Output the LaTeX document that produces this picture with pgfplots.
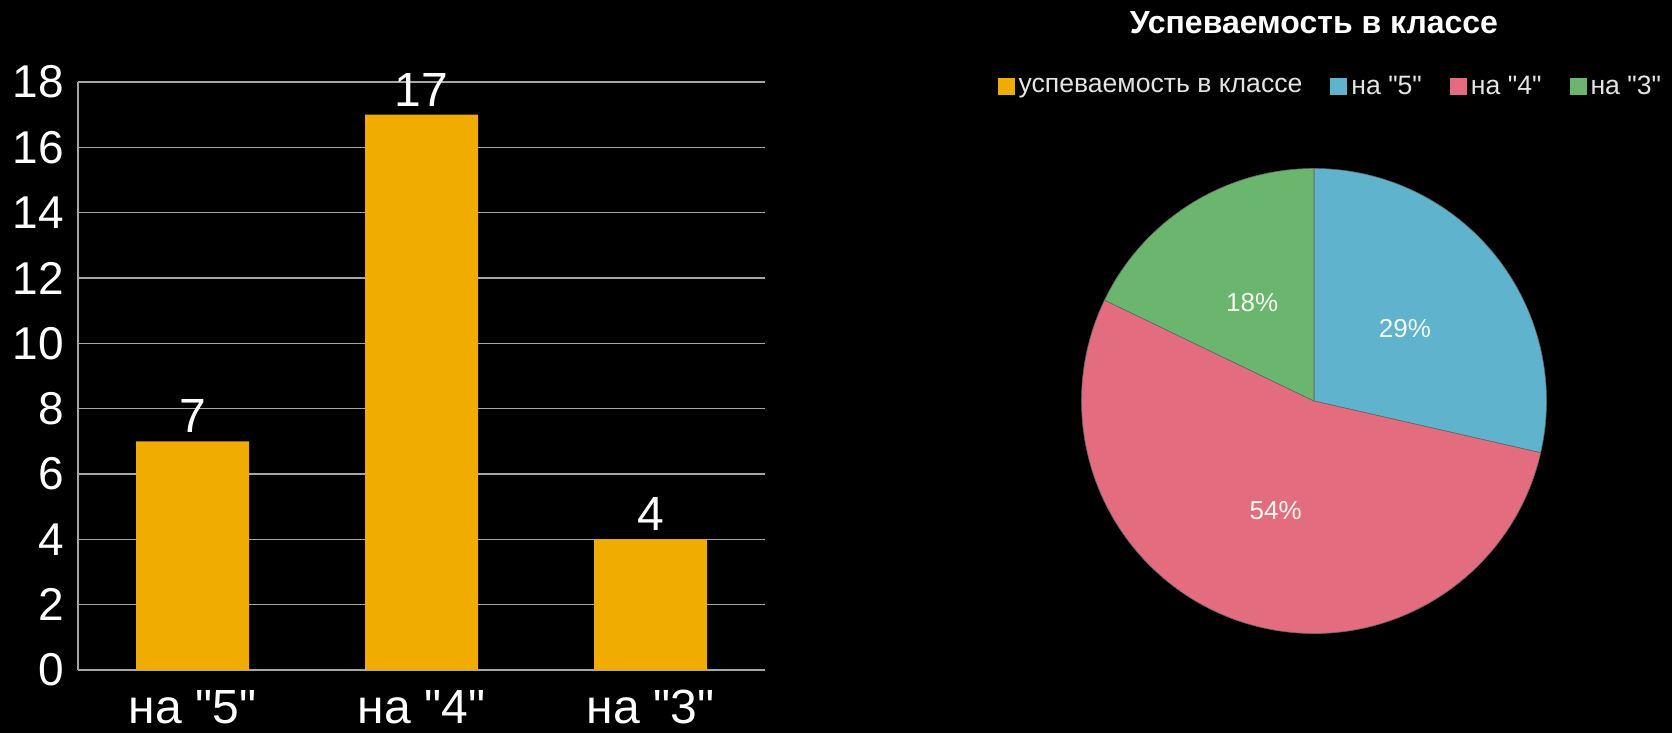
\documentclass[border=0pt]{standalone}
\usepackage{fontspec}
\setmainfont{Liberation Sans}[Ligatures=TeXOff]
\usepackage{pgfplots}
\pgfplotsset{compat=1.18}
\definecolor{barc}{HTML}{F0AC00}
\definecolor{pblue}{HTML}{5FB3CD}
\definecolor{pred}{HTML}{E36C7F}
\definecolor{pgreen}{HTML}{6BB66F}
\definecolor{gridc}{HTML}{A6A6A6}
\definecolor{legtext}{HTML}{E4E4E4}
\definecolor{pietext}{HTML}{F4F8EE}
\pgfplotsset{sqlegend/.style={legend image code/.code={\fill[##1] (0pt,-4.25pt) rectangle (8.5pt,4.25pt);}}}
% pie values (на "5", на "4", на "3")
\def\vA{8}\def\vB{15}\def\vC{5}
\pgfmathsetmacro{\vS}{\vA+\vB+\vC}
\pgfmathsetmacro{\aA}{90-360*\vA/\vS}
\pgfmathsetmacro{\aB}{\aA-360*\vB/\vS}
\pgfmathsetmacro{\aC}{\aB-360*\vC/\vS}
\pgfmathsetmacro{\mA}{(90+\aA)/2}
\pgfmathsetmacro{\mB}{(\aA+\aB)/2}
\pgfmathsetmacro{\mC}{(\aB+\aC)/2}
\begin{document}
\begin{tikzpicture}[x=1pt,y=1pt]
\fill[black] (0,0) rectangle (836,366.5);
\begin{axis}[
  at={(39pt,31.5pt)}, anchor=south west, scale only axis,
  width=343.5pt, height=294pt,
  xmin=-0.5, xmax=2.5, ymin=0, ymax=18,
  ytick={0,2,...,18},
  xtick=data, xticklabels={на "5", на "4", на "3"},
  axis x line=bottom, axis y line=left,
  axis line style={-, gridc, line width=0.6pt},
  ymajorgrids, grid style={gridc, line width=0.6pt},
  major tick length=0pt, tick style={draw=none},
  /pgf/number format/assume math mode=true,
  yticklabel style={font=\fontsize{23}{23}\selectfont, text=white, inner xsep=0pt, xshift=-7pt},
  xticklabel style={font=\fontsize{24}{24}\selectfont, text=white, inner ysep=0pt, yshift=-10pt},
  ybar, bar width=56.5pt,
  nodes near coords,
  every node near coord/.append style={font=\fontsize{24}{24}\selectfont, text=white, anchor=south, inner sep=0pt, yshift=4pt},
]
\addplot[fill=barc, draw=none] coordinates {(0,7) (1,17) (2,4)};
\end{axis}
\begin{axis}[
  at={(657pt,166pt)}, anchor=center, scale only axis,
  width=232.5pt, height=232.5pt,
  xmin=-1, xmax=1, ymin=-1, ymax=1,
  hide axis, clip=false,
  legend columns=4,
  legend style={at={(axis description cs:0.5372,1.176)}, anchor=center, draw=none, fill=none,
    text=legtext, font=\fontsize{13.3}{14}\selectfont,
    /tikz/every even column/.append style={column sep=12pt},
    inner sep=0pt},
  legend cell align=left,
]
\addlegendimage{fill=barc, draw=none, sqlegend}
\addlegendentry{успеваемость в классе}
\addlegendimage{fill=pblue, draw=none, sqlegend}
\addlegendentry{на "5"}
\addlegendimage{fill=pred, draw=none, sqlegend}
\addlegendentry{на "4"}
\addlegendimage{fill=pgreen, draw=none, sqlegend}
\addlegendentry{на "3"}
\filldraw[fill=pblue, draw=black!60, line width=0.3pt] (axis cs:0,0) -- (axis cs:0,1) arc[start angle=90, end angle=\aA, radius=116.25pt] -- cycle;
\filldraw[fill=pred, draw=black!60, line width=0.3pt] (axis cs:0,0) -- (axis cs:{cos(\aA)},{sin(\aA)}) arc[start angle=\aA, end angle=\aB, radius=116.25pt] -- cycle;
\filldraw[fill=pgreen, draw=black!60, line width=0.3pt] (axis cs:0,0) -- (axis cs:{cos(\aB)},{sin(\aB)}) arc[start angle=\aB, end angle=\aC, radius=116.25pt] -- cycle;
\node[text=pietext, font=\fontsize{13}{13}\selectfont] at (axis cs:{0.5*cos(\mA)},{0.5*sin(\mA)}) {29\%};
\node[text=pietext, font=\fontsize{13}{13}\selectfont] at (axis cs:{0.5*cos(\mB)},{0.5*sin(\mB)}) {54\%};
\node[text=pietext, font=\fontsize{13}{13}\selectfont] at (axis cs:{0.5*cos(\mC)},{0.5*sin(\mC)}) {18\%};
\end{axis}
\node[text=white, font=\bfseries\fontsize{16}{18}\selectfont] at (657pt,355pt) {Успеваемость в классе};
\end{tikzpicture}
\end{document}
